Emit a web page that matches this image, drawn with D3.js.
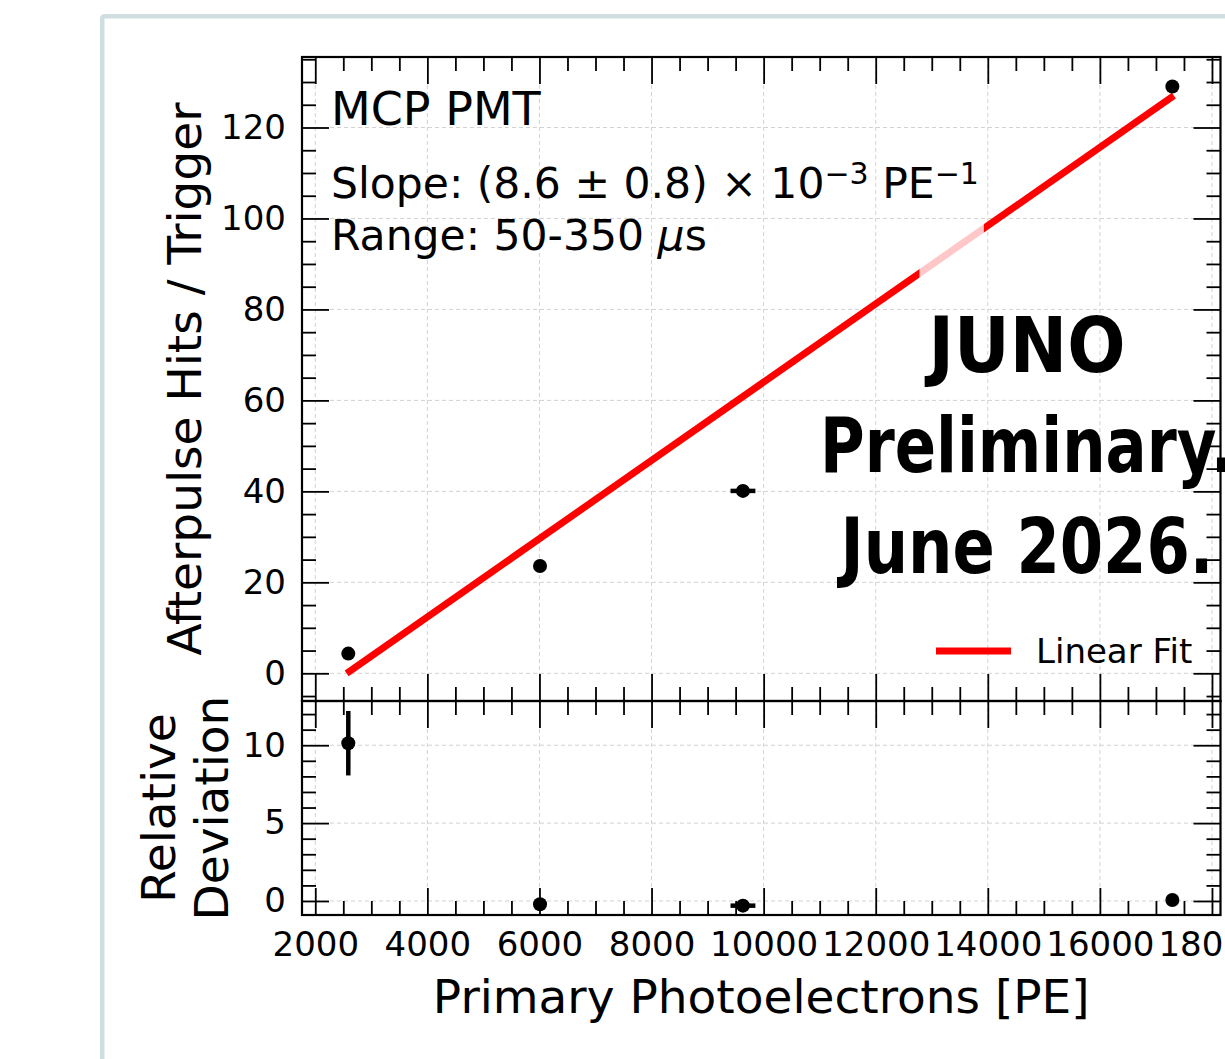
<!DOCTYPE html>
<html><head><meta charset="utf-8">
<script src="https://cdn.jsdelivr.net/npm/d3@7"></script>
<style>
html,body{margin:0;padding:0;background:#fff;overflow:hidden;}
svg{display:block;}
text{font-family:"DejaVu Sans",sans-serif;fill:#000;}
</style></head>
<body>
<script>
// ---- data ----
const pe      = [2589, 6010, 9631, 17293];      // primary photoelectrons
const peErr   = [0, 0, 222, 0];                  // x error
const hits    = [4.33, 23.6, 40.1, 129.0];       // afterpulse hits / trigger
const relDev  = [10.13, -0.21, -0.30, 0.06];     // relative deviation
const relErr  = [2.07, 0, 0, 0];
const fitX    = [2560, 17320];
const fitY    = [0.0, 127.0];
const xTicks  = [2000, 4000, 6000, 8000, 10000, 12000, 14000, 16000, 18000];
const yTicksTop = [0, 20, 40, 60, 80, 100, 120];
const yTicksBot = [0, 5, 10];
const xDomain = [1763, 18152];
const yDomainTop = [-6.09, 135.5];
const yDomainBot = [-0.9, 12.84];
const watermark = ["JUNO", "Preliminary.", "June 2026."];

const W = 1225, H = 1059;
const L = 302, R = 1220.5, T1 = 57, B1 = 701, T2 = 701, B2 = 915;

const svg = d3.select("body").append("svg").attr("width", W).attr("height", H);

// frame
svg.append("rect").attr("x", 102.25).attr("y", 16.25).attr("width", 1300).attr("height", 1200)
  .attr("rx", 2).attr("fill", "none").attr("stroke", "#d0dee1").attr("stroke-width", 4.5);

const x = d3.scaleLinear().domain(xDomain).range([L, R]);
const yT = d3.scaleLinear().domain(yDomainTop).range([B1, T1]);
const yB = d3.scaleLinear().domain(yDomainBot).range([B2, T2]);

const gridColor = "#d2d2d2";
function grid(yScale, yTicks, top, bot) {
  const g = svg.append("g").attr("stroke", gridColor).attr("stroke-width", 1).attr("stroke-dasharray", "4,3");
  g.selectAll(".gx").data(xTicks).join("line")
    .attr("x1", d => x(d)).attr("x2", d => x(d)).attr("y1", top).attr("y2", bot);
  g.selectAll(".gy").data(yTicks).join("line")
    .attr("x1", L).attr("x2", R).attr("y1", d => yScale(d)).attr("y2", d => yScale(d));
}
grid(yT, yTicksTop, T1, B1);
grid(yB, yTicksBot, T2, B2);

const MAJ = 27, MIN = 14, TICKFONT = 34;
const xMinor = d3.range(2000, 18001, 500).filter(v => v % 2000 !== 0);
const yMinorTop = d3.range(-5, 136, 5).filter(v => v % 20 !== 0);
const yMinorBot = d3.range(0, 13, 1).filter(v => v % 5 !== 0);

function styleAxis(g) {
  g.select(".domain").remove();
  g.selectAll(".tick line").attr("stroke", "#000").attr("stroke-width", 1.8);
  g.selectAll(".tick text").attr("font-size", TICKFONT).attr("font-family", "DejaVu Sans").attr("fill", "#000");
  return g;
}

function panelAxes(yScale, yMaj, yMin, top, bot, showXLabels) {
  svg.append("g").attr("transform", `translate(0,${bot})`)
    .call(d3.axisBottom(x).tickValues(xTicks).tickSize(-MAJ).tickPadding(17)
      .tickFormat(showXLabels ? d3.format("d") : () => "")).call(styleAxis);
  svg.append("g").attr("transform", `translate(0,${bot})`)
    .call(d3.axisBottom(x).tickValues(xMinor).tickSize(-MIN).tickFormat(() => "")).call(styleAxis);
  svg.append("g").attr("transform", `translate(0,${top})`)
    .call(d3.axisTop(x).tickValues(xTicks).tickSize(-MAJ).tickFormat(() => "")).call(styleAxis);
  svg.append("g").attr("transform", `translate(0,${top})`)
    .call(d3.axisTop(x).tickValues(xMinor).tickSize(-MIN).tickFormat(() => "")).call(styleAxis);
  svg.append("g").attr("transform", `translate(${L},0)`)
    .call(d3.axisLeft(yScale).tickValues(yMaj).tickSize(-MAJ).tickPadding(16).tickFormat(d3.format("d"))).call(styleAxis);
  svg.append("g").attr("transform", `translate(${L},0)`)
    .call(d3.axisLeft(yScale).tickValues(yMin).tickSize(-MIN).tickFormat(() => "")).call(styleAxis);
  svg.append("g").attr("transform", `translate(${R},0)`)
    .call(d3.axisRight(yScale).tickValues(yMaj).tickSize(-MAJ).tickFormat(() => "")).call(styleAxis);
  svg.append("g").attr("transform", `translate(${R},0)`)
    .call(d3.axisRight(yScale).tickValues(yMin).tickSize(-MIN).tickFormat(() => "")).call(styleAxis);
  svg.append("rect").attr("x", L).attr("y", top).attr("width", R - L).attr("height", bot - top)
    .attr("fill", "none").attr("stroke", "#000").attr("stroke-width", 2.2);
}
panelAxes(yT, yTicksTop, yMinorTop, T1, B1, false);
panelAxes(yB, yTicksBot, yMinorBot, T2, B2, true);

const rows = pe.map((p, i) => ({p, e: peErr[i], h: hits[i], r: relDev[i], re: relErr[i]}));

// fit line
svg.append("line")
  .attr("x1", x(fitX[0])).attr("y1", yT(fitY[0])).attr("x2", x(fitX[1])).attr("y2", yT(fitY[1]))
  .attr("stroke", "#ff0000").attr("stroke-width", 7);

// white translucent patch over the fit line
svg.append("rect")
  .attr("x", x(12780)).attr("width", x(13930) - x(12780))
  .attr("y", yT(99.5)).attr("height", yT(86) - yT(99.5))
  .attr("fill", "#fff").attr("opacity", 0.78);

function errbars(yScale, yKey, yErrKey) {
  const g = svg.append("g").attr("stroke", "#000").attr("stroke-width", 4.5);
  g.selectAll(".ex").data(rows.filter(d => d.e > 0)).join("line")
    .attr("x1", d => x(d.p - d.e)).attr("x2", d => x(d.p + d.e))
    .attr("y1", d => yScale(d[yKey])).attr("y2", d => yScale(d[yKey]));
  if (yErrKey) {
    g.selectAll(".ey").data(rows.filter(d => d[yErrKey] > 0)).join("line")
      .attr("x1", d => x(d.p)).attr("x2", d => x(d.p))
      .attr("y1", d => yScale(d[yKey] - d[yErrKey])).attr("y2", d => yScale(d[yKey] + d[yErrKey]));
  }
  svg.append("g").selectAll("circle").data(rows).join("circle")
    .attr("cx", d => x(d.p)).attr("cy", d => yScale(d[yKey])).attr("r", 7).attr("fill", "#000");
}
errbars(yT, "h", null);
errbars(yB, "r", "re");

// ---- texts ----
svg.append("text").attr("x", 331).attr("y", 125).attr("font-size", 46).text("MCP PMT");

const slope = svg.append("text").attr("x", 331).attr("y", 198).attr("font-size", 42.5);
slope.append("tspan").text("Slope: (8.6 ± 0.8) × 10");
slope.append("tspan").attr("dy", -14).attr("font-size", 30).text("−3");
slope.append("tspan").attr("dy", 14).text(" PE");
slope.append("tspan").attr("dy", -14).attr("font-size", 30).text("−1");

const rng = svg.append("text").attr("x", 331).attr("y", 250).attr("font-size", 42.5);
rng.append("tspan").text("Range: 50-350 ");
rng.append("tspan").attr("font-style", "italic").text("μ");
rng.append("tspan").text("s");

// legend
svg.append("line").attr("x1", 936).attr("x2", 1011).attr("y1", 651).attr("y2", 651)
  .attr("stroke", "#ff0000").attr("stroke-width", 7);
svg.append("text").attr("x", 1036).attr("y", 663).attr("font-size", TICKFONT).text("Linear Fit");

// axis titles
svg.append("text").attr("transform", `translate(201,${(T1 + B1) / 2}) rotate(-90)`)
  .attr("text-anchor", "middle").attr("font-size", 47).text("Afterpulse Hits / Trigger");
svg.append("text").attr("transform", `translate(175,${(T2 + B2) / 2}) rotate(-90)`)
  .attr("text-anchor", "middle").attr("font-size", 47).text("Relative");
svg.append("text").attr("transform", `translate(228,${(T2 + B2) / 2}) rotate(-90)`)
  .attr("text-anchor", "middle").attr("font-size", 47).text("Deviation");
svg.append("text").attr("x", (L + R) / 2).attr("y", 1013)
  .attr("text-anchor", "middle").attr("font-size", 47).text("Primary Photoelectrons [PE]");

// watermark
const wmY = [371.7, 471.7, 573];
const wmW = [197, 414, 373];
svg.append("g").selectAll("text").data(watermark).join("text")
  .attr("x", 1027).attr("y", (d, i) => wmY[i]).attr("text-anchor", "middle")
  .attr("font-family", "'Open Sans', Lato, sans-serif").attr("font-weight", 700)
  .attr("font-size", 76)
  .attr("textLength", (d, i) => wmW[i]).attr("lengthAdjust", "spacingAndGlyphs")
  .text(d => d);
</script>
</body></html>
